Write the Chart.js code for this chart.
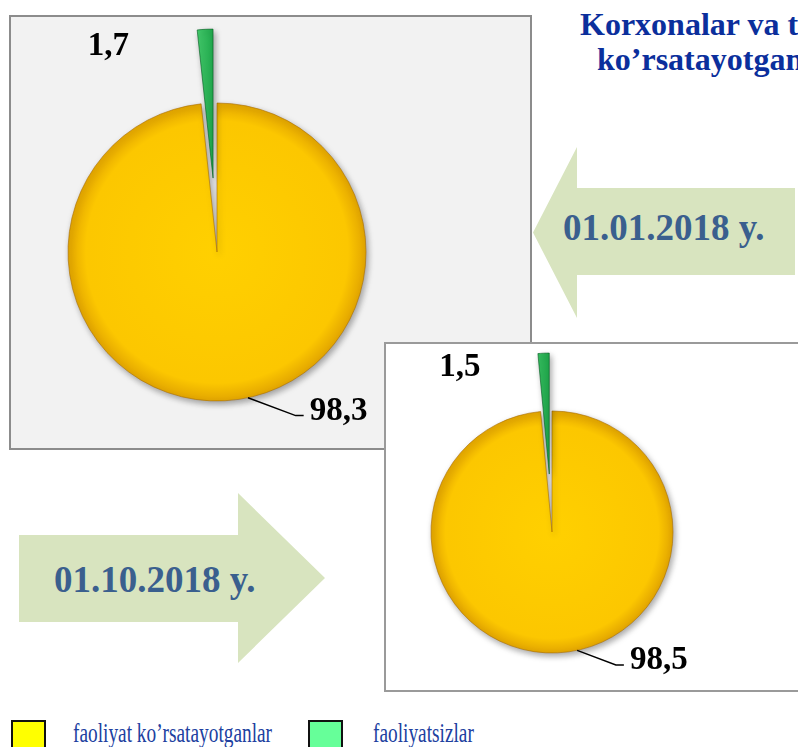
<!DOCTYPE html>
<html>
<head>
<meta charset="utf-8">
<script src="https://cdn.jsdelivr.net/npm/chart.js@4.4.1/dist/chart.umd.min.js"></script>
<style>
  html, body { margin: 0; padding: 0; }
  body { width: 798px; height: 747px; overflow: hidden; position: relative; background: #fff; font-family: "Liberation Serif", "Times New Roman", serif; }
  .abs { position: absolute; }
  .box1 { left: 9px; top: 15px; width: 519px; height: 431px; background: #f2f2f2; border: 2px solid #8c8c8c; }
  .box2 { left: 384px; top: 342px; width: 440px; height: 346px; background: #fff; border: 2px solid #9a9a9a; }
  .arrow { background: #d8e4bf; }
  .arrow1 { left: 533px; top: 147px; width: 262px; height: 171px;
    clip-path: polygon(0 85.5px, 44px 0, 44px 41px, 262px 41px, 262px 128px, 44px 128px, 44px 171px); }
  .arrow2 { left: 19px; top: 493px; width: 306px; height: 170px;
    clip-path: polygon(0 42px, 219px 42px, 219px 0, 306px 85px, 219px 170px, 219px 129px, 0 129px); }
  .date { font-weight: bold; font-size: 37px; line-height: 37px; color: #3a5f8e; white-space: nowrap; }
  .title { font-weight: bold; font-size: 32px; line-height: 32px; color: #0b2f9c; white-space: nowrap; }
  .swatch { width: 31px; height: 28px; border: 2px solid #111; top: 720px; }
  .legtext { top: 719px; font-size: 28px; line-height: 28px; color: #2040a0; white-space: nowrap; transform: scaleX(0.69); transform-origin: 0 0; }
  canvas { position: absolute; }
</style>
</head>
<body>
<div class="abs arrow arrow1"></div>
<div class="abs arrow arrow2"></div>
<div class="abs box1"></div>
<div class="abs box2"></div>
<div class="abs title" style="left:580px; top:8px;">Korxonalar va t</div>
<div class="abs title" style="left:597px; top:43px;">ko’rsatayotgan</div>
<div class="abs date" id="date1" style="left:563px; top:209px;"></div>
<div class="abs date" id="date2" style="left:54px; top:561px;"></div>
<div id="legend"></div>
<canvas id="pieJan" width="540" height="460" style="left:0; top:0;"></canvas>
<canvas id="pieOct" width="414" height="350" style="left:384px; top:342px;"></canvas>
<script>
const categories = ['faoliyat ko’rsatayotganlar', 'faoliyatsizlar'];
const dates = ['01.01.2018 y.', '01.10.2018 y.'];
const valuesJan = [98.3, 1.7];
const valuesOct = [98.5, 1.5];
const legendColors = ['#ffff00', '#66ff99'];

document.getElementById('date1').textContent = dates[0];
document.getElementById('date2').textContent = dates[1];

// legend at the bottom
const legend = document.getElementById('legend');
const legendLeft = [[11, 73], [308, 373]];
categories.forEach((name, i) => {
  const sw = document.createElement('div');
  sw.className = 'abs swatch';
  sw.style.left = legendLeft[i][0] + 'px';
  sw.style.background = legendColors[i];
  legend.appendChild(sw);
  const t = document.createElement('div');
  t.className = 'abs legtext';
  t.style.left = legendLeft[i][1] + 'px';
  t.textContent = name;
  legend.appendChild(t);
});

const fmt = v => v.toFixed(1).replace('.', ',');

// pulls the small slice out, adds shadow and the value labels
const pieDecor = {
  id: 'pieDecor',
  afterDatasetsUpdate(chart, args, opts) {
    const arc = chart.getDatasetMeta(0).data[1];
    const mid = (arc.startAngle + arc.endAngle) / 2;
    arc.x += Math.cos(mid) * opts.explode;
    arc.y += Math.sin(mid) * opts.explode;
  },
  beforeDatasetsDraw(chart) {
    const ctx = chart.ctx;
    ctx.save();
    ctx.shadowColor = 'rgba(0,0,0,0.35)';
    ctx.shadowBlur = 6;
    ctx.shadowOffsetX = 2;
    ctx.shadowOffsetY = 3;
  },
  afterDatasetsDraw(chart, args, opts) {
    const ctx = chart.ctx;
    ctx.restore();
    const big = chart.getDatasetMeta(0).data[0];
    const cx = big.x, cy = big.y, r = big.outerRadius;
    const vals = chart.data.datasets[0].data;
    ctx.save();
    ctx.fillStyle = '#000';
    ctx.strokeStyle = '#000';
    ctx.lineWidth = 1.5;
    ctx.font = 'bold 33px "Liberation Serif"';
    const a = 168 * Math.PI / 180;
    const x0 = cx + r * Math.sin(a), y0 = cy - r * Math.cos(a);
    const x1 = x0 + 0.32 * r, y1 = y0 + 0.12 * r;
    ctx.beginPath();
    ctx.moveTo(x0, y0);
    ctx.lineTo(x1, y1);
    ctx.lineTo(x1 + 8, y1);
    ctx.stroke();
    ctx.textAlign = 'left';
    ctx.textBaseline = 'alphabetic';
    ctx.fillText(fmt(vals[0]), x1 + 14, y1 + 4);
    ctx.textAlign = 'right';
    ctx.textBaseline = 'middle';
    ctx.fillText(fmt(vals[1]), cx - 0.59 * r, cy - 0.92 * (r + opts.explode));
    ctx.restore();
  }
};

function makePie(id, values, radius, explode, padding) {
  const fill = (c) => {
    const area = c.chart.chartArea;
    const base = ['#fcc800', '#1fa84a'][c.dataIndex];
    if (!area) return base;
    const g = c.chart.ctx;
    const cx = (area.left + area.right) / 2, cy = (area.top + area.bottom) / 2;
    if (c.dataIndex === 0) {
      const grad = g.createRadialGradient(cx, cy, 0, cx, cy, radius);
      grad.addColorStop(0, '#ffd000');
      grad.addColorStop(0.88, '#fcc700');
      grad.addColorStop(1, '#e2a500');
      return grad;
    }
    const grad = g.createLinearGradient(cx - 22, 0, cx + 4, 0);
    grad.addColorStop(0, '#48d070');
    grad.addColorStop(1, '#0f963c');
    return grad;
  };
  return new Chart(document.getElementById(id), {
    type: 'pie',
    data: {
      labels: categories,
      datasets: [{
        data: values,
        backgroundColor: fill,
        borderColor: ['rgba(170,110,0,0.6)', 'rgba(0,90,30,0.6)'],
        borderWidth: 1,
        clip: false
      }]
    },
    options: {
      responsive: false,
      animation: false,
      events: [],
      radius: radius,
      layout: { padding: padding },
      plugins: {
        legend: { display: false },
        tooltip: { enabled: false },
        pieDecor: { explode: explode }
      }
    },
    plugins: [pieDecor]
  });
}

makePie('pieJan', valuesJan, 149, 74, { left: 0, right: 106, top: 44, bottom: 0 });
makePie('pieOct', valuesOct, 121, 58, { left: 0, right: 78, top: 30, bottom: 0 });
</script>
</body>
</html>
